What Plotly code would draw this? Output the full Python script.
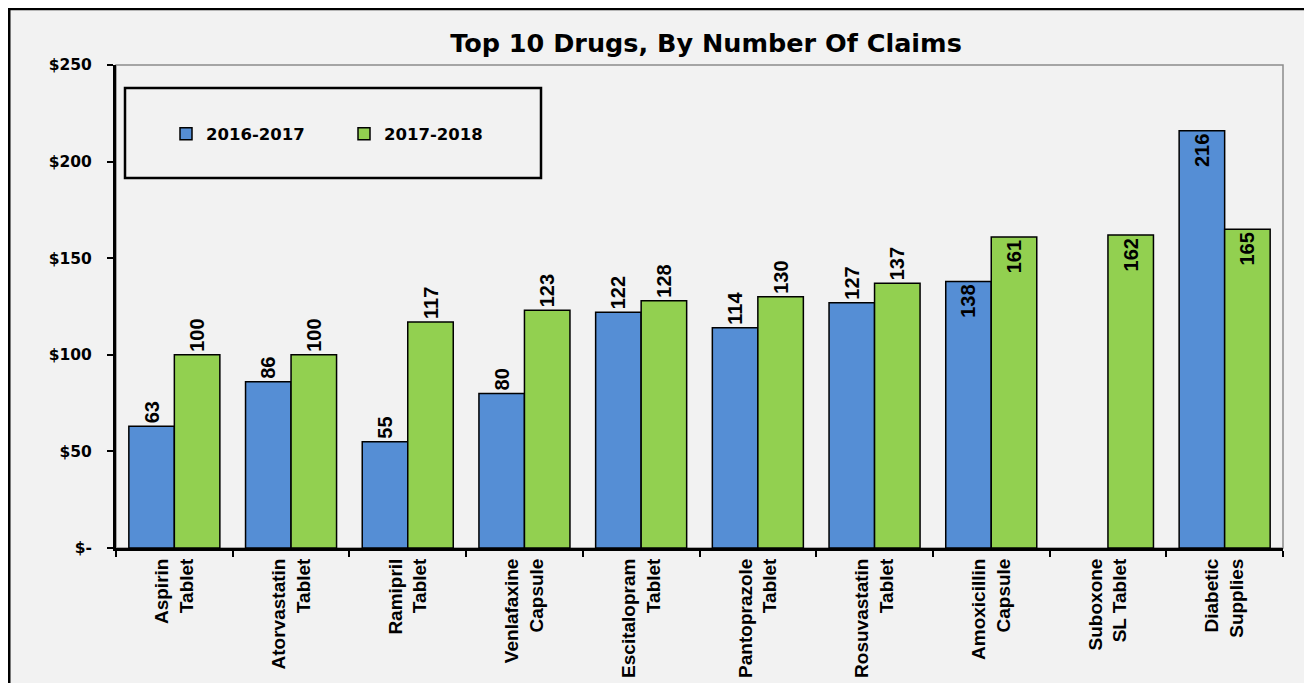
import plotly.graph_objects as go

categories = ["Aspirin<br>Tablet", "Atorvastatin<br>Tablet", "Ramipril<br>Tablet", "Venlafaxine<br>Capsule",
              "Escitalopram<br>Tablet", "Pantoprazole<br>Tablet", "Rosuvastatin<br>Tablet", "Amoxicillin<br>Capsule",
              "Suboxone<br>SL Tablet", "Diabetic<br>Supplies"]
claims_2016_2017 = [63, 86, 55, 80, 122, 114, 127, 138, None, 216]
claims_2017_2018 = [100, 100, 117, 123, 128, 130, 137, 161, 162, 165]
series_names = ["2016-2017", "2017-2018"]
y_tickvals = [0, 50, 100, 150, 200, 250]
y_ticktext = ["$-", "$50", "$100", "$150", "$200", "$250"]

# page offset (body margin) compensation: all layout pixel positions below are in screen coords
OFF = 8
W, H = 1312, 683
PL, PR, PT, PB = 116, 1283, 65, 548  # plot area in screen coords
ML, MT = PL - OFF, PT - OFF
MR, MB = W - (PR - OFF), H - (PB - OFF)
PW, PH = PR - PL, PB - PT

def xp(px):
    return (px - PL) / PW

def yp(py):
    return (PB - py) / PH

ARIAL = "Liberation Sans, Arial, sans-serif"
WIDE = "DejaVu Sans, Verdana, sans-serif"

blue_pos = ["inside" if i in (7, 9) else "outside" for i in range(len(categories))]
green_pos = ["inside" if i in (7, 8, 9) else "outside" for i in range(len(categories))]

fig = go.Figure()
for name, vals, color, pos in [
    (series_names[0], claims_2016_2017, "#558ED5", blue_pos),
    (series_names[1], claims_2017_2018, "#92D050", green_pos),
]:
    fig.add_trace(go.Bar(
        name=name, x=categories, y=vals,
        marker=dict(color=color, line=dict(color="black", width=1.5)),
        text=[("" if v is None else str(v)) for v in vals],
        textposition=pos, textangle=-90, insidetextanchor="end",
        constraintext="none", cliponaxis=False,
        textfont=dict(family=ARIAL, size=20, color="black", weight="bold"),
    ))

fig.update_layout(
    width=W, height=H,
    margin=dict(l=ML, r=MR, t=MT, b=MB),
    paper_bgcolor="#f2f2f2", plot_bgcolor="#f2f2f2",
    barmode="group", bargap=0.22, bargroupgap=0,
    title=dict(text="<b>Top 10 Drugs, By Number Of Claims</b>", x=(706 - OFF) / W, xanchor="center",
               y=1 - (43 - OFF) / H, yanchor="middle", yref="container",
               font=dict(family=WIDE, size=25.5, color="black")),
    showlegend=True,
    legend=dict(orientation="h", x=xp(166), y=yp(134), xanchor="left", yanchor="middle",
                bgcolor="rgba(0,0,0,0)", font=dict(family=WIDE, size=16.5, color="black", weight="bold"),
                entrywidth=133, itemwidth=30),
    xaxis=dict(showline=True, linecolor="black", linewidth=3, tickson="boundaries", automargin=False,
               ticks="outside", ticklen=6, tickwidth=2, tickcolor="black",
               tickangle=-90, tickfont=dict(family=ARIAL, size=19, color="black", weight="bold"),
               showgrid=False, zeroline=False),
    yaxis=dict(range=[0, 250], tickvals=y_tickvals, ticktext=y_ticktext, showline=True, linecolor="black",
               linewidth=3, ticks="outside", ticklen=6, tickwidth=2, tickcolor="black", automargin=False,
               tickfont=dict(family=WIDE, size=15.5, color="black", weight="bold"),
               showgrid=False, zeroline=False, ticklabelstandoff=12),
)

shapes = [
    dict(type="rect", xref="paper", yref="paper", x0=0, x1=1, y0=0, y1=1,
         line=dict(color="#8c8c8c", width=1.5), layer="below"),
    dict(type="rect", xref="paper", yref="paper", x0=xp(125), x1=xp(541), y0=yp(178), y1=yp(88),
         line=dict(color="black", width=2.5), fillcolor="rgba(0,0,0,0)"),
    dict(type="line", xref="paper", yref="paper", x0=xp(5), x1=xp(1330), y0=yp(8.5), y1=yp(8.5),
         line=dict(color="black", width=3.5)),
    dict(type="line", xref="paper", yref="paper", x0=xp(8), x1=xp(8), y0=yp(7), y1=yp(700),
         line=dict(color="black", width=5)),
    dict(type="line", xref="paper", yref="paper", x0=xp(1311), x1=xp(1311), y0=yp(10), y1=yp(700),
         line=dict(color="#a0a0a0", width=1.5)),
]
fig.update_layout(shapes=shapes)

fig.write_html("out.html")
